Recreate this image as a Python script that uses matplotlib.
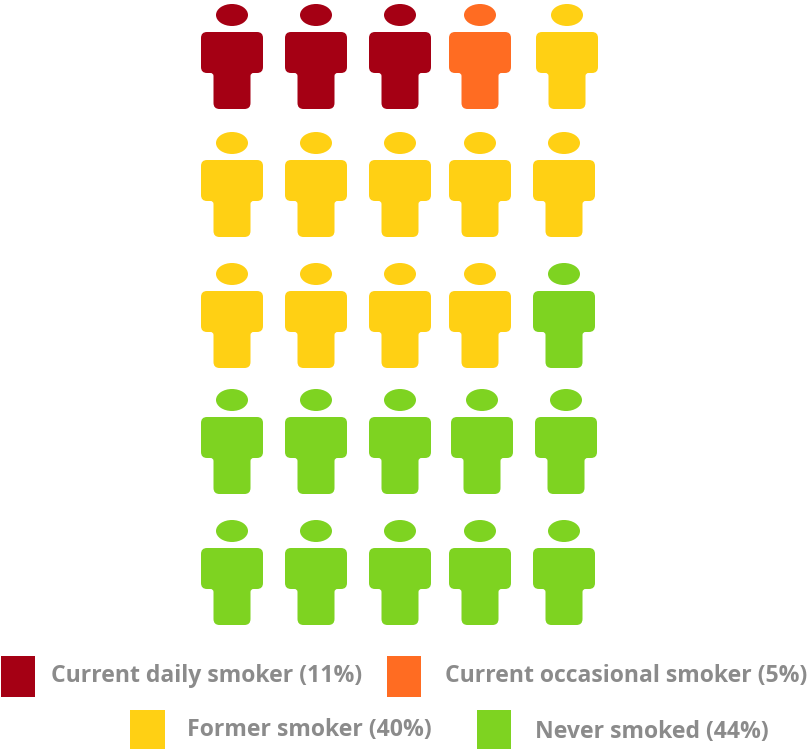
import matplotlib.pyplot as plt
from matplotlib.patches import Ellipse, PathPatch, Rectangle
from matplotlib.path import Path

# Share of people per group, one figure = 4%
labels = ['Current daily smoker (11%)', 'Current occasional smoker (5%)',
          'Former smoker (40%)', 'Never smoked (44%)']
counts = [3, 1, 10, 11]
colors = ['#a50014', '#ff6c22', '#ffd014', '#7ed321']

# Layout in image pixels
row_heads = [15, 143, 274, 400, 531]
row_columns = [[232, 316, 400, 480, 567],
               [232, 316, 400, 480, 564],
               [232, 316, 400, 480, 564],
               [232, 316, 400, 482, 566],
               [232, 316, 400, 480, 564]]
legend_boxes = [(1, 656, 34, 41), (387, 656, 34, 41), (130, 710, 35, 39), (477, 710, 34, 39)]
legend_text = [(51, 676), (445, 676), (187, 730), (535, 732)]


def body_path(cx, top):
    # torso with arms, rounded corners
    w, t, r = 31, 18.5, 6
    arm = top + 41
    foot = top + 77
    pts = [(cx - w + r, top), (cx + w - r, top), (cx + w, top), (cx + w, top + r),
           (cx + w, arm - r), (cx + w, arm), (cx + w - r, arm),
           (cx + t + 3, arm), (cx + t, arm), (cx + t, arm + 3),
           (cx + t, foot - r), (cx + t, foot), (cx + t - r, foot),
           (cx - t + r, foot), (cx - t, foot), (cx - t, foot - r),
           (cx - t, arm + 3), (cx - t, arm), (cx - t - 3, arm),
           (cx - w + r, arm), (cx - w, arm), (cx - w, arm - r),
           (cx - w, top + r), (cx - w, top), (cx - w + r, top)]
    codes = [Path.MOVETO, Path.LINETO, Path.CURVE3, Path.CURVE3,
             Path.LINETO, Path.CURVE3, Path.CURVE3,
             Path.LINETO, Path.CURVE3, Path.CURVE3,
             Path.LINETO, Path.CURVE3, Path.CURVE3,
             Path.LINETO, Path.CURVE3, Path.CURVE3,
             Path.LINETO, Path.CURVE3, Path.CURVE3,
             Path.LINETO, Path.CURVE3, Path.CURVE3,
             Path.LINETO, Path.CURVE3, Path.CURVE3]
    return Path(pts, codes)


fig = plt.figure(figsize=(8.09, 7.49), dpi=100)
ax = fig.add_axes([0, 0, 1, 1])
ax.set_xlim(0, 809)
ax.set_ylim(749, 0)
ax.axis('off')

person_colors = []
for color, n in zip(colors, counts):
    person_colors += [color] * n

i = 0
for head, columns in zip(row_heads, row_columns):
    for cx in columns:
        c = person_colors[i]
        ax.add_patch(Ellipse((cx, head), 32, 22, color=c, lw=0))
        ax.add_patch(PathPatch(body_path(cx, head + 17), facecolor=c, lw=0))
        i += 1

for (x, y, w, h), c in zip(legend_boxes, colors):
    ax.add_patch(Rectangle((x, y), w, h, color=c, lw=0))

for (x, y), s in zip(legend_text, labels):
    ax.text(x, y, s, family='Open Sans', fontweight='bold', fontsize=16.6,
            color='#8b8b8b', va='center', ha='left')

fig.savefig('out.png', dpi=100)
